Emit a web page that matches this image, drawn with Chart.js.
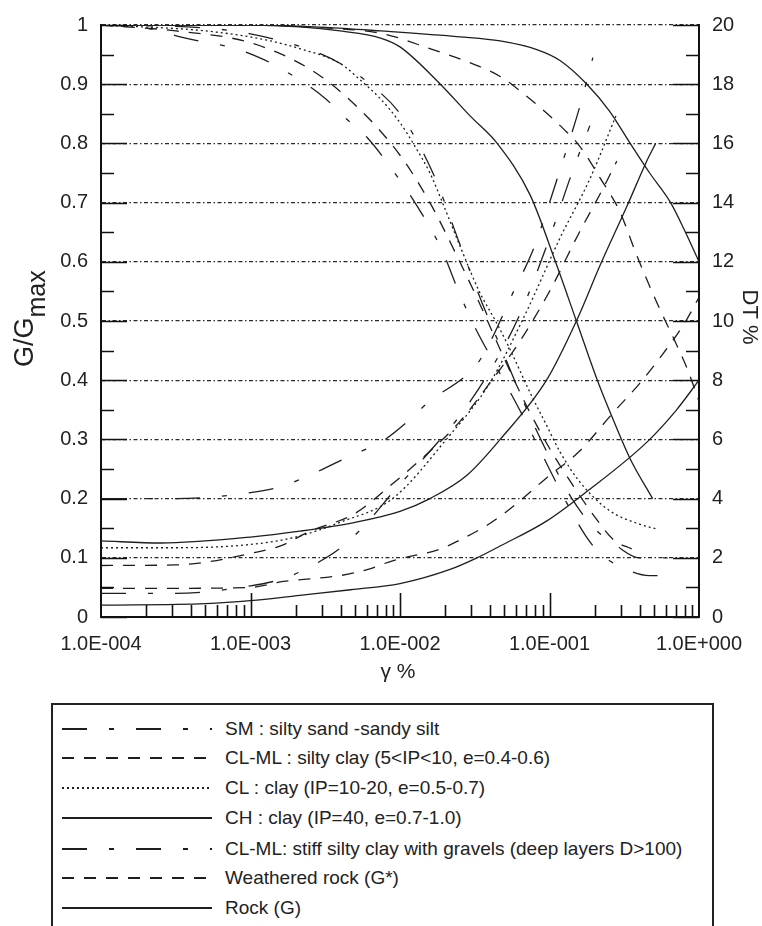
<!DOCTYPE html>
<html>
<head>
<meta charset="utf-8">
<script src="https://cdn.jsdelivr.net/npm/chart.js@4.4.1/dist/chart.umd.min.js"></script>
<style>
  html, body { margin: 0; padding: 0; background: #fff; }
  #wrap { position: relative; width: 762px; height: 926px; overflow: hidden; }
  #chart { position: absolute; left: 0; top: 0; }
  #legend { position: absolute; left: 51px; top: 703px; width: 659px; height: 260px; border: 2px solid #222; }
  .row { position: absolute; left: 0; height: 24px; width: 650px; }
  .row svg { position: absolute; left: 9px; top: 9px; }
  .row span { position: absolute; left: 172px; top: 0; font: 19px 'Liberation Sans', Arial, sans-serif; color: #222; white-space: nowrap; line-height: 24px; }
</style>
</head>
<body>
<div id="wrap">
  <canvas id="chart" width="762" height="700"></canvas>
  <div id="legend"></div>
</div>
<script>
// strain axis (γ %), log scale decades
const strainTicks = [1e-4, 1e-3, 1e-2, 1e-1, 1];
const gTicks = ['0', '0.1', '0.2', '0.3', '0.4', '0.5', '0.6', '0.7', '0.8', '0.9', '1'];
const dtTicks = [0, 2, 4, 6, 8, 10, 12, 14, 16, 18, 20];

// curves: log10(γ %) and value
// G/Gmax (left axis)
const smG_lg = [-4, -3.7, -3.47, -3.29, -3.14, -2.96, -2.8, -2.5, -2.38, -2.22, -2.05, -1.9, -1.72, -1.6, -1.5, -1.35, -1.2, -1.05, -0.9, -0.75, -0.66, -0.5, -0.33, -0.16];
const smG    = [1.0, 0.995, 0.98, 0.97, 0.963, 0.947, 0.927, 0.876, 0.846, 0.81, 0.755, 0.70, 0.62, 0.545, 0.49, 0.42, 0.35, 0.275, 0.2, 0.134, 0.107, 0.082, 0.07, 0.07];
const siltyG_lg = [-4, -3.5, -3.0, -2.6, -2.3, -2.0, -1.8, -1.6, -1.45, -1.3, -1.15, -1.0, -0.85, -0.7, -0.57, -0.45];
const siltyG    = [1.0, 0.99, 0.97, 0.925, 0.865, 0.78, 0.70, 0.60, 0.52, 0.435, 0.355, 0.285, 0.225, 0.17, 0.13, 0.115];
const clG_lg = [-4, -3.3, -2.9, -2.67, -2.4, -2.27, -2.13, -2.0, -1.9, -1.8, -1.7, -1.58, -1.47, -1.35, -1.26, -1.13, -1.03, -0.93, -0.8, -0.6, -0.4, -0.29];
const clG    = [1.0, 0.99, 0.975, 0.96, 0.935, 0.908, 0.875, 0.835, 0.795, 0.75, 0.69, 0.615, 0.55, 0.495, 0.45, 0.379, 0.329, 0.279, 0.229, 0.18, 0.157, 0.149];
const chG_lg = [-4, -3.0, -2.67, -2.4, -2.13, -2.0, -1.73, -1.53, -1.35, -1.13, -0.96, -0.82, -0.68, -0.575, -0.46, -0.31];
const chG    = [1.0, 1.0, 0.997, 0.99, 0.978, 0.963, 0.90, 0.846, 0.80, 0.713, 0.60, 0.50, 0.40, 0.334, 0.267, 0.20];
const stiffG_lg = [-4, -3.3, -3.0, -2.6, -2.4, -2.2, -2.0, -1.78, -1.6, -1.45, -1.3, -1.15, -1.0, -0.85, -0.7, -0.55, -0.4, -0.21];
const stiffG    = [1.0, 0.995, 0.985, 0.958, 0.935, 0.90, 0.85, 0.75, 0.63, 0.53, 0.44, 0.35, 0.27, 0.20, 0.15, 0.12, 0.10, 0.10];
const wrockG_lg = [-4, -3.0, -2.5, -2.11, -1.8, -1.47, -1.33, -1.13, -0.88, -0.8, -0.66, -0.53, -0.415, -0.28, -0.15, -0.08, 0];
const wrockG    = [1.0, 1.0, 0.995, 0.985, 0.96, 0.93, 0.913, 0.875, 0.818, 0.796, 0.741, 0.685, 0.61, 0.53, 0.46, 0.42, 0.365];
const rockG_lg = [-4, -3.0, -2.5, -2.13, -1.6, -1.33, -1.08, -0.93, -0.75, -0.6, -0.46, -0.33, -0.19, -0.1, 0];
const rockG    = [1.0, 1.0, 0.996, 0.99, 0.98, 0.973, 0.958, 0.94, 0.90, 0.855, 0.80, 0.75, 0.70, 0.655, 0.60];

// DT % (right axis)
const smD_lg = [-4, -3.5, -3.0, -2.8, -2.6, -2.35, -2.1, -1.95, -1.8, -1.55, -1.45, -1.24, -1.11, -1.0, -0.93, -0.86, -0.8, -0.71];
const smD    = [4.0, 4.0, 4.2, 4.4, 4.8, 5.4, 6.0, 6.6, 7.3, 8.2, 8.8, 11.0, 12.4, 14.0, 15.1, 16.2, 17.2, 18.9];
const siltyD_lg = [-4, -3.5, -3.3, -3.0, -2.8, -2.6, -2.3, -2.05, -1.8, -1.6, -1.4, -1.2, -1.0, -0.8, -0.65, -0.55];
const siltyD    = [1.74, 1.76, 1.85, 2.15, 2.4, 2.9, 3.5, 4.5, 5.6, 6.6, 7.9, 9.3, 11.0, 13.0, 14.4, 15.4];
const clD_lg = [-4, -3.5, -3.0, -2.7, -2.4, -2.05, -1.69, -1.4, -1.16, -0.93, -0.73, -0.55];
const clD    = [2.34, 2.34, 2.45, 2.7, 3.2, 4.0, 6.0, 7.9, 10.25, 12.8, 14.8, 17.0];
const chD_lg = [-4, -3.6, -3.0, -2.67, -2.3, -2.0, -1.8, -1.55, -1.33, -1.02, -0.82, -0.66, -0.48, -0.35, -0.29];
const chD    = [2.57, 2.5, 2.7, 2.9, 3.2, 3.57, 4.0, 4.8, 6.0, 8.0, 10.0, 11.9, 13.9, 15.4, 16.0];
const stiffD_lg = [-4, -3.5, -3.0, -2.78, -2.6, -2.38, -2.2, -2.05, -1.8, -1.6, -1.4, -1.2, -1.0, -0.85, -0.73];
const stiffD    = [0.8, 0.8, 1.05, 1.3, 1.7, 2.4, 3.3, 4.2, 5.6, 6.8, 8.3, 10.2, 12.8, 15.0, 16.6];
const wrockD_lg = [-4, -3.5, -3.0, -2.78, -2.4, -2.22, -2.05, -1.73, -1.6, -1.45, -1.33, -1.18, -1.02, -0.8, -0.575, -0.395, -0.24, -0.1, 0];
const wrockD    = [0.97, 0.97, 1.0, 1.2, 1.4, 1.6, 1.9, 2.3, 2.6, 3.0, 3.4, 4.0, 4.7, 5.6, 6.9, 7.9, 8.9, 9.9, 10.8];
const rockD_lg = [-4, -3.3, -3.0, -2.67, -2.33, -2.0, -1.67, -1.485, -1.33, -1.02, -0.75, -0.35, -0.15, 0];
const rockD    = [0.4, 0.45, 0.55, 0.73, 0.92, 1.13, 1.6, 2.0, 2.4, 3.24, 4.24, 5.9, 7.0, 8.0];

const legendLabels = [
  'SM : silty sand -sandy silt',
  'CL-ML : silty clay (5<IP<10, e=0.4-0.6)',
  'CL : clay (IP=10-20, e=0.5-0.7)',
  'CH : clay (IP=40, e=0.7-1.0)',
  'CL-ML: stiff silty clay with gravels (deep layers D>100)',
  'Weathered rock (G*)',
  'Rock (G)'
];

const dashLongDot = [25, 22, 5, 22];
const dashShort = [12, 10];
const dotted = [2, 3];
const solid = [];
const legendDash = [dashLongDot, dashShort, dotted, solid, dashLongDot, dashShort, solid];
const legendRowY = [24, 53, 83, 113, 144, 173, 203];

const pts = (lg, v) => lg.map((e, i) => ({ x: Math.pow(10, e), y: v[i] }));

function curve(lg, v, dash, axis) {
  return {
    data: pts(lg, v),
    yAxisID: axis,
    borderColor: '#1e1e1e',
    borderWidth: 1.3,
    borderDash: dash,
    pointRadius: 0,
    fill: false,
    cubicInterpolationMode: 'monotone'
  };
}

const datasets = [
  curve(smG_lg, smG, dashLongDot, 'y'),
  curve(siltyG_lg, siltyG, dashShort, 'y'),
  curve(clG_lg, clG, dotted, 'y'),
  curve(chG_lg, chG, solid, 'y'),
  curve(stiffG_lg, stiffG, dashLongDot, 'y'),
  curve(wrockG_lg, wrockG, dashShort, 'y'),
  curve(rockG_lg, rockG, solid, 'y'),
  curve(smD_lg, smD, dashLongDot, 'y2'),
  curve(siltyD_lg, siltyD, dashShort, 'y2'),
  curve(clD_lg, clD, dotted, 'y2'),
  curve(chD_lg, chD, solid, 'y2'),
  curve(stiffD_lg, stiffD, dashLongDot, 'y2'),
  curve(wrockD_lg, wrockD, dashShort, 'y2'),
  curve(rockD_lg, rockD, solid, 'y2')
];

function sciLabel(v) {
  const e = Math.round(Math.log10(v));
  const s = e < 0 ? '-' : '+';
  return '1.0E' + s + String(Math.abs(e)).padStart(3, '0');
}

const FONT = "'Liberation Sans', Arial, sans-serif";

// inner tick marks and axis titles
const axisDecor = {
  id: 'axisDecor',
  afterDraw(chart) {
    const { ctx, chartArea: a, scales } = chart;
    const y = scales.y, x = scales.x;
    ctx.save();
    ctx.strokeStyle = '#111';
    ctx.lineWidth = 1.6;
    ctx.beginPath();
    for (let i = 0; i <= 20; i++) {
      const py = Math.round(y.getPixelForValue(i * 0.05)) + 0.5;
      const len = i % 2 === 0 ? 26 : 13;
      ctx.moveTo(a.left, py); ctx.lineTo(a.left + len, py);
      ctx.moveTo(a.right, py); ctx.lineTo(a.right - len, py);
    }
    for (let e = -4; e < 0; e++) {
      for (let m = 1; m < 10; m++) {
        if (e === -4 && m === 1) continue;
        const px = Math.round(x.getPixelForValue(m * Math.pow(10, e))) + 0.5;
        const len = m === 1 ? 24 : 12;
        ctx.moveTo(px, a.bottom); ctx.lineTo(px, a.bottom - len);
      }
    }
    ctx.stroke();

    ctx.fillStyle = '#222';
    ctx.textBaseline = 'alphabetic';
    // G/Gmax
    ctx.save();
    ctx.translate(33, 367);
    ctx.rotate(-Math.PI / 2);
    ctx.textAlign = 'left';
    ctx.font = '27px ' + FONT;
    ctx.fillText('G/G', 0, 0);
    const w = ctx.measureText('G/G').width;
    ctx.font = '25px ' + FONT;
    ctx.fillText('max', w, 12);
    ctx.restore();
    // DT %
    ctx.save();
    ctx.translate(743, 317);
    ctx.rotate(Math.PI / 2);
    ctx.textAlign = 'center';
    ctx.font = '22px ' + FONT;
    ctx.fillText('DT %', 0, 0);
    ctx.restore();
    // γ %
    ctx.textAlign = 'center';
    ctx.font = '21px ' + FONT;
    ctx.fillText('γ %', 398, 678);
    ctx.restore();
  }
};

Chart.defaults.font.family = FONT;
Chart.defaults.color = '#222';

new Chart(document.getElementById('chart'), {
  type: 'line',
  data: { datasets },
  options: {
    responsive: false,
    devicePixelRatio: 1,
    animation: false,
    layout: { padding: { top: 18, left: 0, right: 0, bottom: 0 } },
    plugins: { legend: { display: false }, tooltip: { enabled: false } },
    scales: {
      x: {
        type: 'logarithmic',
        min: 1e-4,
        max: 1,
        afterBuildTicks: s => { s.ticks = strainTicks.map(v => ({ value: v })); },
        afterFit: s => { s.height = 83; },
        ticks: { autoSkip: false, maxRotation: 0, padding: 15, font: { size: 20 }, callback: v => sciLabel(v) },
        grid: { display: false, drawTicks: false },
        border: { display: true, color: '#111', width: 2 }
      },
      y: {
        position: 'left',
        min: 0,
        max: 1,
        afterBuildTicks: s => { s.ticks = gTicks.map(t => ({ value: Number(t) })); },
        afterFit: s => { s.width = 101; },
        ticks: { padding: 13, font: { size: 20 }, callback: (v, i) => gTicks[i] },
        grid: { drawTicks: false, color: '#2a2a2a', lineWidth: 1.2 },
        border: { display: true, color: '#111', width: 2, dash: [4, 2.5, 1.5, 2.5] }
      },
      y2: {
        position: 'right',
        min: 0,
        max: 20,
        afterBuildTicks: s => { s.ticks = dtTicks.map(v => ({ value: v })); },
        afterFit: s => { s.width = 63; },
        ticks: { padding: 13, font: { size: 20 }, callback: (v, i) => String(dtTicks[i]) },
        grid: { display: false, drawTicks: false },
        border: { display: true, color: '#111', width: 2 }
      }
    }
  },
  plugins: [axisDecor]
});

// legend box
const legend = document.getElementById('legend');
legendLabels.forEach((label, i) => {
  const row = document.createElement('div');
  row.className = 'row';
  row.style.top = (legendRowY[i] - 12) + 'px';
  const dash = legendDash[i].length ? legendDash[i].join(' ') : 'none';
  row.innerHTML =
    '<svg width="150" height="6"><line x1="0" y1="3" x2="150" y2="3" stroke="#1e1e1e" stroke-width="2" stroke-dasharray="' + dash + '"/></svg>';
  const span = document.createElement('span');
  span.textContent = label;
  row.appendChild(span);
  legend.appendChild(row);
});
</script>
</body>
</html>
